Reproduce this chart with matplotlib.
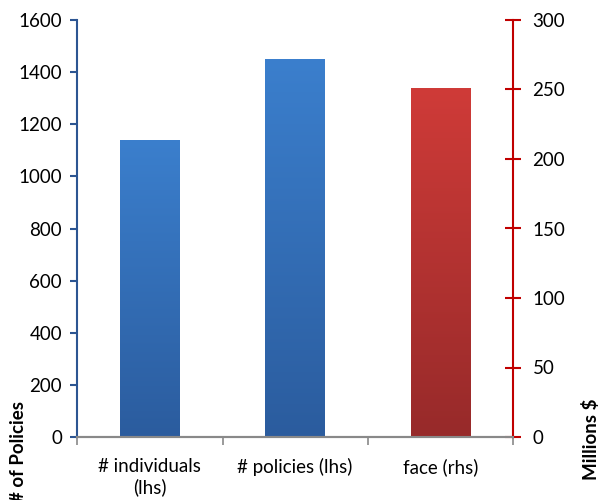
import numpy as np
import matplotlib.pyplot as plt
from matplotlib.colors import LinearSegmentedColormap

categories = ["# individuals\n(lhs)", "# policies (lhs)", "face (rhs)"]
lhs_values = [1140, 1450]        # number of policies / individuals
rhs_values = [251]               # face amount, millions $
lhs_ticks = list(range(0, 1601, 200))
rhs_ticks = list(range(0, 301, 50))

plt.rcParams["font.family"] = ["Lato", "DejaVu Sans"]

fig = plt.figure(figsize=(6.03, 5.0), dpi=100)
ax = fig.add_axes([0.128, 0.126, 0.723, 0.834])
ax2 = ax.twinx()

blue = LinearSegmentedColormap.from_list("b", ["#2b5c9e", "#3b7fcd"])
red = LinearSegmentedColormap.from_list("r", ["#972a2a", "#cf3b38"])
grad = np.linspace(0, 1, 256).reshape(-1, 1)


def gradient_bars(axis, xs, vals, cmap):
    bars = axis.bar(xs, vals, width=0.41, color="none", edgecolor="none", zorder=2)
    for b in bars:
        x0, y0 = b.get_x(), b.get_y()
        im = axis.imshow(grad, cmap=cmap, origin="lower", aspect="auto",
                         extent=[x0, x0 + b.get_width(), y0, y0 + b.get_height()],
                         zorder=2)
        im.set_clip_path(b)


gradient_bars(ax, [0, 1], lhs_values, blue)
gradient_bars(ax2, [2], rhs_values, red)

ax.set_xlim(-0.5, 2.5)
ax.set_ylim(0, 1600)
ax2.set_ylim(0, 300)
ax.set_yticks(lhs_ticks)
ax2.set_yticks(rhs_ticks)

# category boundaries as major ticks, labels on minor ticks
ax.set_xticks([-0.5, 0.5, 1.5, 2.5])
ax.set_xticklabels([])
ax.set_xticks([0, 1, 2], minor=True)
ax.set_xticklabels(categories, minor=True, fontsize=13.5)
ax.tick_params(axis="x", which="major", direction="out", length=6, color="#898989", width=1.2)
ax.tick_params(axis="x", which="minor", length=0, pad=15)

for a in (ax, ax2):
    a.spines["top"].set_visible(False)
    a.spines["bottom"].set_color("#898989")
    a.spines["bottom"].set_linewidth(1.5)
ax.spines["right"].set_visible(False)
ax2.spines["left"].set_visible(False)
ax.spines["left"].set_color("#2c5592")
ax.spines["left"].set_linewidth(1.5)
ax2.spines["right"].set_color("#c00000")
ax2.spines["right"].set_linewidth(1.5)

ax.tick_params(axis="y", direction="out", length=5, color="#2c5592", width=1.5,
               labelsize=13.5, pad=6)
ax2.tick_params(axis="y", direction="inout", length=12, color="#c00000", width=1.5,
                labelsize=13.5, pad=8)

fig.text(0.03, -0.005, "# of Policies", rotation=90, fontsize=13.5, fontweight="bold",
         ha="center", va="bottom")
fig.text(0.98, 0.04, "Millions $", rotation=90, fontsize=13.5, fontweight="bold",
         ha="center", va="bottom")

fig.savefig("out.png", dpi=100)
